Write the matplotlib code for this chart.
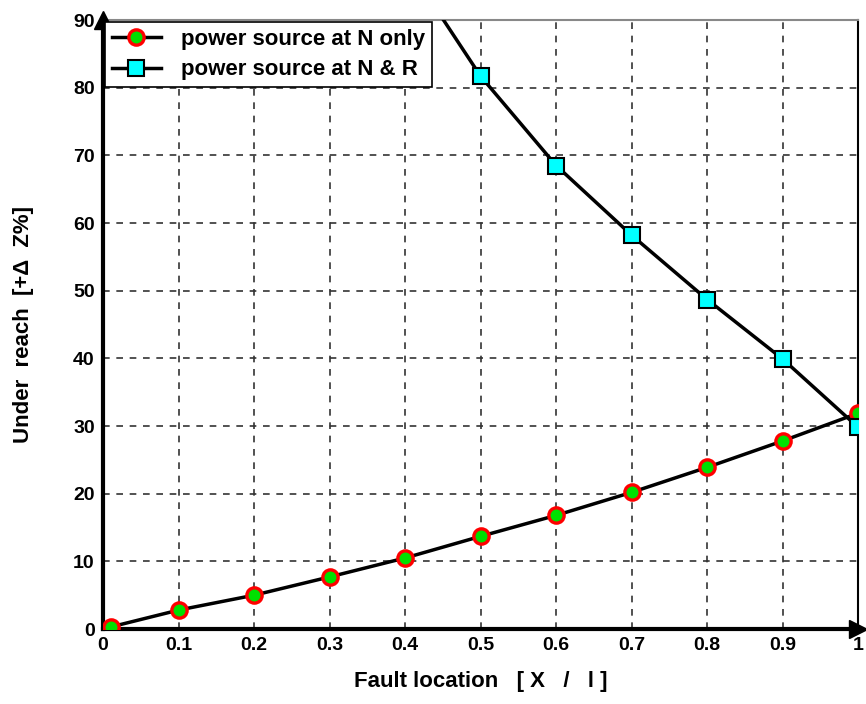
import matplotlib.pyplot as plt
import numpy as np

# fault location (x / l)
x_n = [0.01, 0.1, 0.2, 0.3, 0.4, 0.5, 0.6, 0.7, 0.8, 0.9, 1.0]
# under reach, power source at N only
y_n = [0.3, 2.8, 5.0, 7.7, 10.5, 13.7, 16.8, 20.2, 23.9, 27.8, 31.9]
# power source at N & R (first point runs off the top)
x_nr = [0.4, 0.5, 0.6, 0.7, 0.8, 0.9, 1.0]
y_nr = [98.6, 81.7, 68.5, 58.2, 48.7, 39.9, 29.8]

xticks = [0, 0.1, 0.2, 0.3, 0.4, 0.5, 0.6, 0.7, 0.8, 0.9, 1]
xlabels = ['0', '0.1', '0.2', '0.3', '0.4', '0.5', '0.6', '0.7', '0.8', '0.9', '1']
yticks = [0, 10, 20, 30, 40, 50, 60, 70, 80, 90]

plt.rcParams['font.family'] = ['Liberation Sans', 'DejaVu Sans']
plt.rcParams['font.weight'] = 'bold'

fig = plt.figure(figsize=(8.66, 7.04), dpi=100)
ax = fig.add_axes([0.119, 0.1065, 0.872, 0.865])

ax.plot(x_n, y_n, color='black', lw=2.5, marker='o', ms=11,
        mfc='#00e000', mec='red', mew=2.4, label='power source at N only', zorder=3)
ax.plot(x_nr, y_nr, color='black', lw=2.5, marker='s', ms=11,
        mfc='cyan', mec='black', mew=1.5, label='power source at N & R', zorder=3)

ax.set_xlim(0, 1)
ax.set_ylim(0, 90)
ax.set_xticks(xticks)
ax.set_xticklabels(xlabels)
ax.set_yticks(yticks)
ax.tick_params(length=0, labelsize=14, pad=6)
ax.grid(True, linestyle=(0, (4, 4)), color='#333333', lw=1.2)

ax.spines['left'].set_linewidth(3)
ax.spines['bottom'].set_linewidth(3)
ax.spines['top'].set_color('#888888')
ax.spines['top'].set_linewidth(1.5)
ax.spines['right'].set_linewidth(1.5)

# arrows on the axes
ax.plot(0, 1, marker='^', color='black', ms=13, transform=ax.transAxes, clip_on=False, zorder=5)
ax.plot(1, 0, marker='>', color='black', ms=13, transform=ax.transAxes, clip_on=False, zorder=5)

ax.set_xlabel('Fault location   [ X   /   l ]', fontsize=16, fontweight='bold', labelpad=12)
ax.set_ylabel('Under  reach  [+\u0394  Z%]', fontsize=16, fontweight='bold', labelpad=28)

leg = ax.legend(loc='upper left', fontsize=16, frameon=True, fancybox=False,
                edgecolor='black', framealpha=1, borderaxespad=0.1,
                handlelength=2.2, borderpad=0.3, labelspacing=0.42, handletextpad=0.9)
leg.get_frame().set_linewidth(1.2)

fig.savefig('out.png', dpi=100)
